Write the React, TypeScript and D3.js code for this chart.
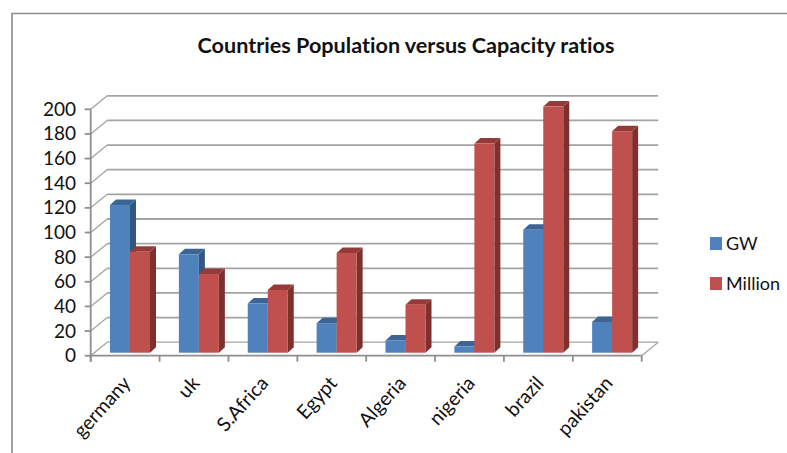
import React from "react";
import * as d3 from "d3";

const categories = ["germany", "uk", "S.Africa", "Egypt", "Algeria", "nigeria", "brazil", "pakistan"];
const gwValues = [120, 80, 40, 24, 10, 5, 100, 25];
const millionValues = [82, 64, 51, 81, 39, 170, 200, 180];
const yTicks = [0, 20, 40, 60, 80, 100, 120, 140, 160, 180, 200];
const chartTitle = "Countries Population versus Capacity ratios";
const seriesNames = ["GW", "Million"];

const WIDTH = 787;
const HEIGHT = 453;
const FONT = "Lato, 'Open Sans', sans-serif";
const TEXT = "#111111";
const GRID = "#a3a3a3";
const AXIS = "#8e8e8e";

// Oblique offset from the front plane to the back wall
const WALL_DX = 16.5;
const WALL_DY = -13.5;
// Oblique offset of a bar's side and top faces
const BAR_DX = 6;
const BAR_DY = -5.5;

const BLUE = { front: "#4f81bd", side: "#34577f", top: "#3c6595" };
const RED = { front: "#c0504d", side: "#7e302e", top: "#943b39" };

const xBand = d3.scaleBand<string>().domain(categories).range([90.7, 641.7]);
const yAxis = d3.scaleLinear().domain([0, 200]).range([355.7, 109.3]);
const yBar = d3.scaleLinear().domain([0, 200]).range([352.7, 106.6]);

const BAR_WIDTH = 20;
const BAR_INSET = 19.3;

function Bar({ x, value, colors }: { x: number; value: number; colors: typeof BLUE }) {
  const top = yBar(value);
  const bottom = yBar(0);
  const right = x + BAR_WIDTH;
  const side = d3.path();
  side.moveTo(right, top);
  side.lineTo(right + BAR_DX, top + BAR_DY);
  side.lineTo(right + BAR_DX, bottom + BAR_DY);
  side.lineTo(right, bottom);
  side.closePath();
  const cap = d3.path();
  cap.moveTo(x, top);
  cap.lineTo(x + BAR_DX, top + BAR_DY);
  cap.lineTo(right + BAR_DX, top + BAR_DY);
  cap.lineTo(right, top);
  cap.closePath();
  return (
    <g>
      <path d={side.toString()} fill={colors.side} />
      <path d={cap.toString()} fill={colors.top} />
      <rect x={x} y={top} width={BAR_WIDTH} height={bottom - top} fill={colors.front} />
    </g>
  );
}

export default function App() {
  const [x0, x1] = xBand.range();
  const edges = [...categories.map((c) => xBand(c) as number), x1];
  return (
    <svg
      width={WIDTH}
      height={HEIGHT}
      viewBox={`0 0 ${WIDTH} ${HEIGHT}`}
      style={{ position: "absolute", left: 0, top: 0, background: "#fff" }}
    >
      {/* Chart frame */}
      <path d={`M12 ${HEIGHT} V13.5 H${WIDTH}`} fill="none" stroke="#8c8c8c" strokeWidth={1.6} />

      <text
        x={406}
        y={53}
        textAnchor="middle"
        fontFamily={FONT}
        fontWeight={700}
        fontSize={21.6}
        fill={TEXT}
        style={{ fontVariantLigatures: "none" }}
      >
        {chartTitle}
      </text>

      {/* Back wall gridlines with their slanted returns on the side wall */}
      {yTicks.map((t) => (
        <g key={t} stroke={GRID} fill="none">
          <line x1={x0 + WALL_DX} x2={x1 + WALL_DX} y1={yAxis(t) + WALL_DY} y2={yAxis(t) + WALL_DY} strokeWidth={t === 0 ? 1.2 : 1.8} />
          <line x1={x0} y1={yAxis(t)} x2={x0 + WALL_DX} y2={yAxis(t) + WALL_DY} strokeWidth={1.3} />
        </g>
      ))}

      {/* Floor edges */}
      <line x1={x1} y1={yAxis(0)} x2={x1 + WALL_DX} y2={yAxis(0) + WALL_DY} stroke={GRID} strokeWidth={1.3} />

      {/* Value axis */}
      <line x1={x0} x2={x0} y1={yAxis(200)} y2={yAxis(0) + 6} stroke={AXIS} strokeWidth={1.8} />
      {yTicks.map((t) => (
        <g key={t}>
          <line x1={x0 - 6} x2={x0} y1={yAxis(t)} y2={yAxis(t)} stroke={AXIS} strokeWidth={1.8} />
          <text x={76} y={yAxis(t) + 6.5} textAnchor="end" fontFamily={FONT} fontSize={19} fill={TEXT}>
            {t}
          </text>
        </g>
      ))}

      {/* Category axis */}
      <line x1={x0} x2={x1} y1={yAxis(0)} y2={yAxis(0)} stroke={AXIS} strokeWidth={1.8} />
      {edges.map((e) => (
        <line key={e} x1={e} x2={e} y1={yAxis(0)} y2={yAxis(0) + 6} stroke={AXIS} strokeWidth={1.8} />
      ))}

      {/* Paired bars */}
      {categories.map((c, i) => {
        const left = (xBand(c) as number) + BAR_INSET;
        return (
          <g key={c}>
            <Bar x={left} value={gwValues[i]} colors={BLUE} />
            <Bar x={left + BAR_WIDTH} value={millionValues[i]} colors={RED} />
          </g>
        );
      })}

      {/* Slanted category labels */}
      {categories.map((c) => {
        const cx = (xBand(c) as number) + xBand.bandwidth() / 2;
        return (
          <text
            key={c}
            transform={`translate(${cx + 6.5},${384}) rotate(-48)`}
            textAnchor="end"
            fontFamily={FONT}
            fontSize={19.5}
            fill={TEXT}
          >
            {c}
          </text>
        );
      })}

      {/* Legend */}
      {seriesNames.map((name, i) => {
        const y = 237 + i * 40;
        return (
          <g key={name}>
            <rect x={710} y={y} width={12} height={13} fill={i === 0 ? BLUE.front : RED.front} />
            <text x={726} y={y + 13} fontFamily={FONT} fontSize={18} fill={TEXT}>
              {name}
            </text>
          </g>
        );
      })}
    </svg>
  );
}
